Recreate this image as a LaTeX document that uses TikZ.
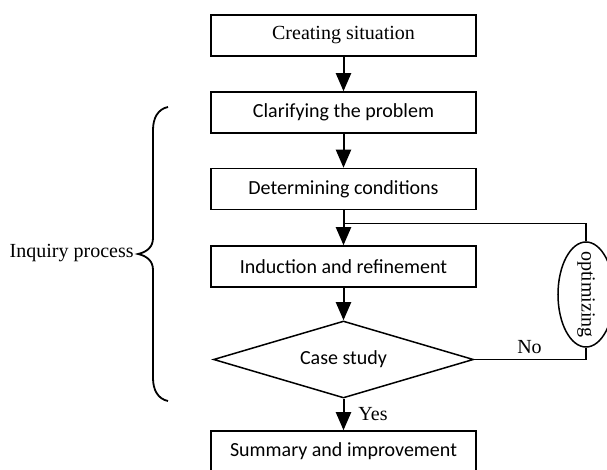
\documentclass[tikz,border=0pt]{standalone}
\usepackage{fontspec}
\setmainfont{Liberation Serif}
\newfontfamily\calibrifont{Carlito}
\usetikzlibrary{shapes.geometric,arrows.meta}
\begin{document}
\begin{tikzpicture}[x=0.5pt,y=-0.5pt,
  box/.style={draw,line width=0.75pt,minimum width=132.5pt,minimum height=20.5pt,inner sep=0pt,font=\fontsize{10}{12}\selectfont\calibrifont},
  seriftext/.style={font=\fontsize{10}{12}\selectfont},
  decision/.style={diamond,aspect=3.4,draw,line width=0.75pt,minimum width=130pt,minimum height=38.5pt,inner sep=0pt,font=\fontsize{10}{12}\selectfont\calibrifont},
  oval/.style={ellipse,draw,line width=0.75pt,minimum width=28pt,minimum height=52.5pt,inner sep=0pt},
  flow/.style={line width=1pt,-{Triangle[length=9pt,width=7.5pt]}},
  plain/.style={line width=0.75pt},
  bracestyle/.style={line width=0.9pt}
]
\useasboundingbox (0,0) rectangle (607,470);

\node[box,font=\fontsize{10}{12}\selectfont] (b1) at (343.5,35.5) {Creating situation};
\node[box] (b2) at (343.5,112.5) {Clarifying the problem};
\node[box] (b3) at (343.5,189) {Determining conditions};
\node[box] (b4) at (343.5,266.5) {Induction and refinement};
\node[decision] (d) at (343.5,359.5) {Case study};
\node[box] (b5) at (343.5,451.5) {Summary and improvement};
\node[oval] (opt) at (586,294.5) {};
\node[seriftext,rotate=-90] (optlabel) at (opt.center) {optimizing};

\coordinate (j) at (343.5,223.5);

\draw[flow] (b1) -- (b2);
\draw[flow] (b2) -- (b3);
\draw[flow] (b3) -- (b4);
\draw[flow] (b4) -- (d);
\draw[flow] (d) -- (b5);

\draw[plain] (d.east) -- (d.east -| opt.south) -- (opt.south);
\draw[plain] (opt.north) |- (j);

\node[seriftext] (no) at (529.5,347) {No};
\node[seriftext] (yes) at (373,414.5) {Yes};

\draw[bracestyle] (168,107) .. controls (158,109) and (153,118) .. (153,130)
  -- (153,238) .. controls (153,247) and (147,252) .. (138,254)
  .. controls (147,256) and (153,261) .. (153,270)
  -- (153,378) .. controls (153,390) and (158,399) .. (168,401);
\node[seriftext,anchor=east,inner sep=0pt] (inq) at (134,253) {Inquiry process};
\end{tikzpicture}
\end{document}
